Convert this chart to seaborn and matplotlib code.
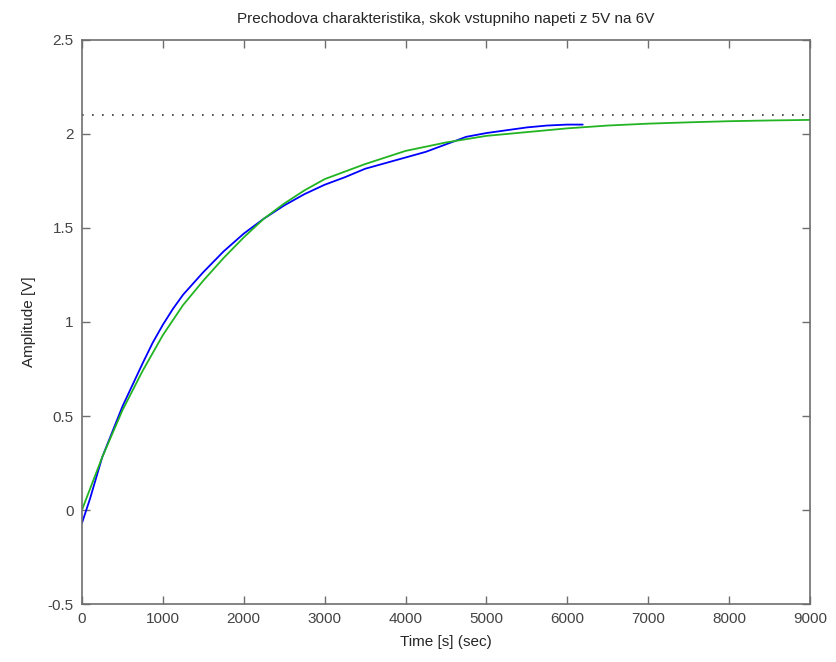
import pandas as pd
import matplotlib
matplotlib.use("Agg")
import matplotlib.pyplot as plt
import seaborn as sns

# -- Data -------------------------------------------------------------------
# measured response (blue)
t_meas = [0, 100, 250, 500, 750, 875, 1000, 1125, 1250, 1500, 1750, 2000,
          2250, 2500, 2750, 3000, 3250, 3500, 3750, 4000, 4250, 4500, 4750,
          5000, 5250, 5500, 5750, 6000, 6190]
y_meas = [-0.07, 0.06, 0.28, 0.55, 0.78, 0.89, 0.985, 1.07, 1.145, 1.265,
          1.375, 1.47, 1.55, 1.62, 1.68, 1.73, 1.77, 1.815, 1.845, 1.875,
          1.905, 1.945, 1.985, 2.005, 2.02, 2.035, 2.045, 2.05, 2.05]

# model step response (green)
t_model = [0, 250, 500, 750, 1000, 1250, 1500, 1750, 2000, 2250, 2500, 2750,
           3000, 3500, 4000, 4500, 5000, 5500, 6000, 6500, 7000, 7500, 8000,
           8500, 9000]
y_model = [0.0, 0.28, 0.53, 0.74, 0.93, 1.09, 1.22, 1.34, 1.45, 1.55, 1.63,
           1.70, 1.76, 1.84, 1.91, 1.955, 1.99, 2.01, 2.03, 2.045, 2.055,
           2.062, 2.068, 2.072, 2.075]

steady_t = [0, 9000]
steady_y = [2.1, 2.1]

x_ticks = [0, 1000, 2000, 3000, 4000, 5000, 6000, 7000, 8000, 9000]
y_ticks = [-0.5, 0, 0.5, 1, 1.5, 2, 2.5]
y_tick_labels = ["-0.5", "0", "0.5", "1", "1.5", "2", "2.5"]

meas = pd.DataFrame({"t": t_meas, "y": y_meas})
model = pd.DataFrame({"t": t_model, "y": y_model})
steady = pd.DataFrame({"t": steady_t, "y": steady_y})

# -- Style -----------------------------------------------------------------
sns.set_style("white")
plt.rcParams["font.family"] = ["Liberation Sans", "DejaVu Sans"]

fig = plt.figure(figsize=(8.36, 6.62), dpi=100)
ax = fig.add_axes([0.098, 0.0876, 0.871, 0.852])

sns.lineplot(data=steady, x="t", y="y", ax=ax, color="#333333",
             linestyle=(0, (1, 5)), linewidth=1.2)
sns.lineplot(data=meas, x="t", y="y", ax=ax, color="#0000ff", linewidth=1.3)
sns.lineplot(data=model, x="t", y="y", ax=ax, color="#22b422", linewidth=1.3)

ax.set_xlim(0, 9000)
ax.set_ylim(-0.5, 2.5)
ax.set_xticks(x_ticks)
ax.set_xticklabels([str(v) for v in x_ticks])
ax.set_yticks(y_ticks)
ax.set_yticklabels(y_tick_labels)

for s in ax.spines.values():
    s.set_color("#6e6e6e")
    s.set_linewidth(1.2)
    s.set_visible(True)
ax.tick_params(direction="in", length=5.5, width=1.0, color="#6e6e6e",
               labelsize=11, labelcolor="#444444", top=True, right=True,
               bottom=True, left=True, pad=6)

ax.set_xlabel("Time [s] (sec)", fontsize=11, labelpad=6)
ax.set_ylabel("Amplitude [V]", fontsize=11, labelpad=8)
ax.set_title("Prechodova charakteristika, skok vstupniho napeti z 5V na 6V",
             fontsize=11, pad=12)

fig.savefig("out.png", dpi=100)
